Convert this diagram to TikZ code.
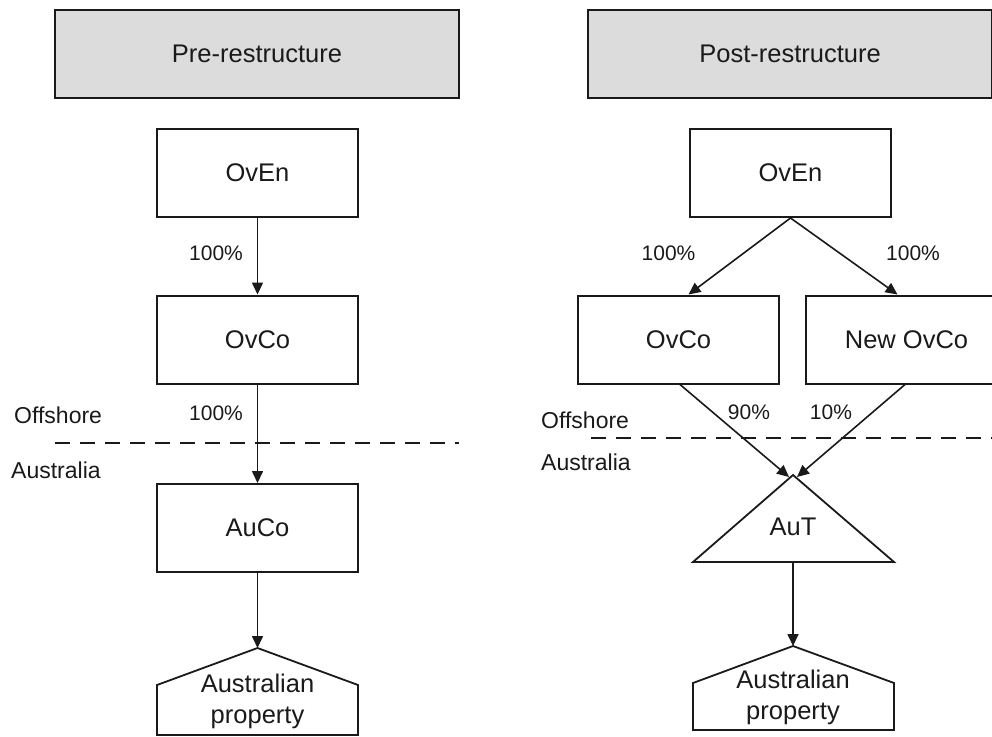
\documentclass[tikz,border=0pt]{standalone}
\usepackage{fontspec}
\setmainfont{Liberation Sans}
\usetikzlibrary{arrows.meta}
\definecolor{ink}{HTML}{1A1A1A}
\definecolor{hdr}{HTML}{DCDCDC}
\tikzset{
  box/.style={draw=ink, line width=2pt, minimum width=201pt, minimum height=88pt, inner sep=0pt, font=\fontsize{25.5}{30}\selectfont, text=ink},
  hdrbox/.style={box, fill=hdr, minimum width=404pt},
  pct/.style={font=\fontsize{21}{25}\selectfont, text=ink, inner sep=0pt},
  zone/.style={font=\fontsize{23}{27}\selectfont, text=ink, inner sep=0pt, anchor=west},
  conn/.style={draw=ink, line width=1.6pt, -{Triangle[length=12pt,width=11pt]}},
  shp/.style={draw=ink, line width=1.8pt},
  bord/.style={draw=ink, line width=1.6pt, dash pattern=on 15pt off 10pt},
  lbl/.style={font=\fontsize{25.5}{31}\selectfont, text=ink, inner sep=0pt, align=center}
}
\begin{document}
\begin{tikzpicture}[x=1pt,y=-1pt]
\useasboundingbox (0,0) rectangle (992,736);
\clip (0,0) rectangle (992,736);
% ---------- left: pre-restructure ----------
\node[hdrbox] (hL) at (257,54) {Pre-restructure};
\node[box] (OvEnL) at (257.5,173) {OvEn};
\node[box] (OvCoL) at (257.5,339.5) {OvCo};
\node[box] (AuCoL) at (257.5,528) {AuCo};
\coordinate (apL) at (257.5,648);
\draw[shp] (157,735) -- (157,685) -- (apL) -- (358,685) -- (358,735) -- cycle;
\node[lbl] (propL) at (257.5,701) {Australian\\property};
\draw[conn] (OvEnL.south) -- (OvCoL.north);
\draw[conn] (OvCoL.south) -- (AuCoL.north);
\draw[conn] (AuCoL.south) -- (apL);
\node[pct] (pL1) at (216,253) {100\%};
\node[pct] (pL2) at (216,413) {100\%};
\coordinate (dLa) at (55,443);
\coordinate (dLb) at (459,443);
\draw[bord] (dLa) -- (dLb);
\node[zone] (offL) at (14,415) {Offshore};
\node[zone] (ausL) at (11,470) {Australia};
% ---------- right: post-restructure ----------
\node[hdrbox] (hR) at (790,54) {Post-restructure};
\node[box] (OvEnR) at (790.5,173) {OvEn};
\node[box] (OvCoR) at (678.5,339.5) {OvCo};
\node[box] (NewR) at (906.5,339.5) {New OvCo};
\coordinate (apT) at (793,475);
\coordinate (tB1) at (693,562);
\coordinate (tB2) at (894,562);
\draw[shp] (tB1) -- (apT) -- (tB2) -- cycle;
\node[lbl] (AuT) at (793,527) {AuT};
\coordinate (apR) at (793,646);
\draw[shp] (693,730) -- (693,683) -- (apR) -- (894,683) -- (894,730) -- cycle;
\node[lbl] (propR) at (793,697) {Australian\\property};
\draw[conn] (OvEnR.south) -- ([xshift=10pt]OvCoR.north);
\draw[conn] (OvEnR.south) -- ([xshift=-9pt]NewR.north);
\draw[conn] ([xshift=1.5pt]OvCoR.south) -- ([xshift=-4pt,yshift=-2pt]apT);
\draw[conn] ([xshift=-1.5pt]NewR.south) -- ([xshift=4pt,yshift=-2pt]apT);
\draw[conn] (793,562) -- (apR);
\node[pct] (pR1) at (668.5,253) {100\%};
\node[pct] (pR2) at (913,253) {100\%};
\node[pct] (pR3) at (749,412) {90\%};
\node[pct] (pR4) at (831,412) {10\%};
\coordinate (dRa) at (591,438);
\coordinate (dRb) at (1000,438);
\draw[bord] (dRa) -- (dRb);
\node[zone] (offR) at (541,420) {Offshore};
\node[zone] (ausR) at (541,462) {Australia};
\end{tikzpicture}
\end{document}
